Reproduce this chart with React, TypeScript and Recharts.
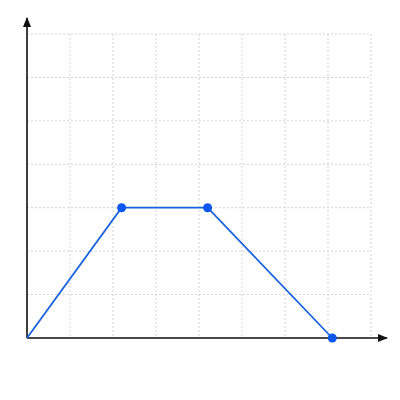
import React from "react";
import {
  LineChart,
  Line,
  XAxis,
  YAxis,
  CartesianGrid,
  ReferenceLine,
} from "recharts";

// profile points (grid units)
const times = [0, 2.2, 4.2, 7.1];
const speeds = [0, 3, 3, 0];
const xTicks = [0, 1, 2, 3, 4, 5, 6, 7, 8];
const yTicks = [0, 1, 2, 3, 4, 5, 6, 7];

const data = times.map((t, i) => ({ t, v: speeds[i] }));

const AxisArrow = (props: any) => {
  const { x1, y1, x2, y2 } = props;
  return (
    <line
      x1={x1}
      y1={y1}
      x2={x2}
      y2={y2}
      stroke="#111"
      strokeWidth={1.6}
      markerEnd="url(#arrowHead)"
    />
  );
};

const Dot = (props: any) => {
  const { cx, cy, index } = props;
  if (index === 0) return <g key={`d-${index}`} />;
  return <circle key={`d-${index}`} cx={cx} cy={cy} r={4.5} fill="#0b57f0" />;
};

const App: React.FC = () => {
  return (
    <div style={{ width: 392, height: 392 }}>
      <LineChart
        width={392}
        height={392}
        data={data}
        margin={{ top: 26, right: 29, bottom: 62, left: 19 }}
      >
        <defs>
          <marker
            id="arrowHead"
            markerWidth={10}
            markerHeight={8}
            refX={9}
            refY={4}
            orient="auto"
            markerUnits="userSpaceOnUse"
          >
            <path d="M0,0 L10,4 L0,8 z" fill="#111" />
          </marker>
        </defs>
        <CartesianGrid stroke="#d4d4d4" strokeDasharray="2 2" />
        <XAxis
          type="number"
          dataKey="t"
          domain={[0, 8]}
          ticks={xTicks}
          hide
        />
        <YAxis type="number" domain={[0, 7]} ticks={yTicks} hide />
        <ReferenceLine
          segment={[
            { x: 0, y: 0 },
            { x: 8.37, y: 0 },
          ]}
          ifOverflow="visible"
          shape={AxisArrow}
        />
        <ReferenceLine
          segment={[
            { x: 0, y: 0 },
            { x: 0, y: 7.37 },
          ]}
          ifOverflow="visible"
          shape={AxisArrow}
        />
        <Line
          type="linear"
          dataKey="v"
          stroke="#1a62dc"
          strokeWidth={1.8}
          dot={Dot}
          activeDot={false}
          isAnimationActive={false}
        />
      </LineChart>
    </div>
  );
};

export default App;
